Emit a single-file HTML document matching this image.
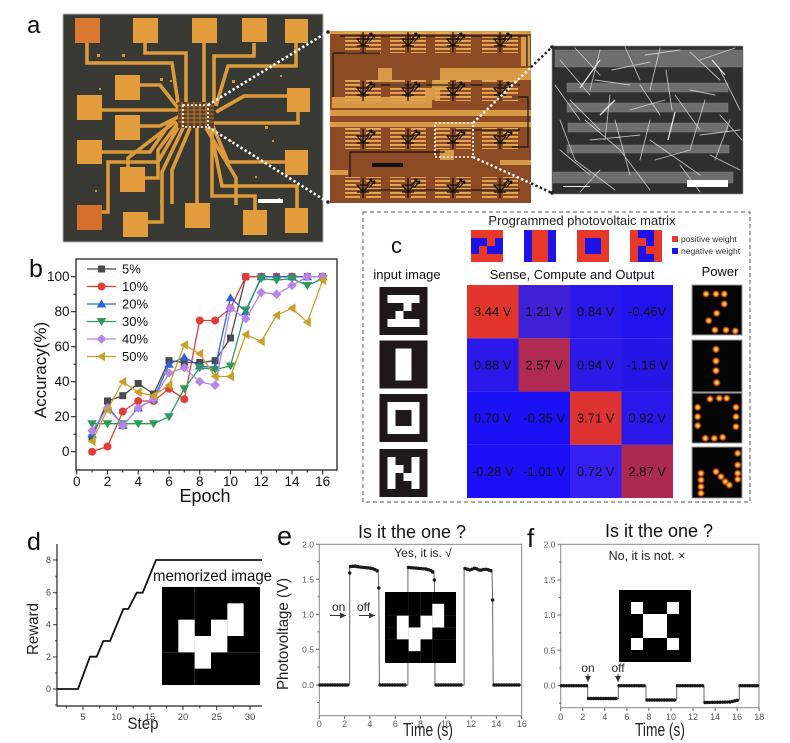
<!DOCTYPE html>
<html><head><meta charset="utf-8"><style>
html,body{margin:0;padding:0;background:#fff;}
svg{display:block;}
</style></head><body>
<svg width="790" height="743" viewBox="0 0 790 743" xmlns="http://www.w3.org/2000/svg" font-family="'Liberation Sans', Arial, sans-serif">
<defs>
<pattern id="stripes" x="0" y="0" width="8" height="4" patternUnits="userSpaceOnUse"><rect width="8" height="1.9" fill="#e6a856"/></pattern>
<g id="pd" fill="none" stroke="#111" stroke-width="1.2"><path d="M0,-10V10 M-6,-3H6L0,4Z M-6,4H6 M3,-2L9,-9 M6,0L12,-7 M9,-9l-3,0.6 M9,-9l-0.6,3 M12,-7l-3,0.6 M12,-7l-0.6,3"/></g>
<radialGradient id="glow"><stop offset="0" stop-color="#fff4a8"/><stop offset="0.35" stop-color="#ffb436"/><stop offset="0.7" stop-color="#e04c12" stop-opacity="0.85"/><stop offset="1" stop-color="#b01e00" stop-opacity="0"/></radialGradient>
<marker id="mSq" markerUnits="userSpaceOnUse" markerWidth="12" markerHeight="12" refX="6" refY="6" orient="0"><rect x="2.5" y="2.5" width="7" height="7" fill="#4a4a4a"/></marker>
<marker id="mCi" markerUnits="userSpaceOnUse" markerWidth="12" markerHeight="12" refX="6" refY="6" orient="0"><circle cx="6" cy="6" r="4" fill="#e43c3c"/></marker>
<marker id="mTu" markerUnits="userSpaceOnUse" markerWidth="12" markerHeight="12" refX="6" refY="6" orient="0"><path d="M6,1.5L10.8,9.5H1.2Z" fill="#2c64d6"/></marker>
<marker id="mTd" markerUnits="userSpaceOnUse" markerWidth="12" markerHeight="12" refX="6" refY="6" orient="0"><path d="M1.2,2.5H10.8L6,10.5Z" fill="#2f9a5c"/></marker>
<marker id="mDi" markerUnits="userSpaceOnUse" markerWidth="12" markerHeight="12" refX="6" refY="6" orient="0"><path d="M6,1.2L10.8,6L6,10.8L1.2,6Z" fill="#b884e8"/></marker>
<marker id="mTl" markerUnits="userSpaceOnUse" markerWidth="12" markerHeight="12" refX="6" refY="6" orient="0"><path d="M1.5,6L9.5,1.2V10.8Z" fill="#c8a02a"/></marker>
<marker id="arr" markerUnits="userSpaceOnUse" markerWidth="8" markerHeight="8" refX="6" refY="4" orient="auto"><path d="M0,1L6,4L0,7Z" fill="#333"/></marker>
</defs>

<!-- ============ PANEL A ============ -->
<text x="27" y="33" font-size="24" fill="#111">a</text>
<rect x="63" y="14" width="260" height="228" fill="#393934" stroke="#b0b0b0" stroke-width="1"/>
<g fill="none" stroke="#dc9a3a" stroke-width="3.6" stroke-linejoin="miter">
<path d="M87,43V63H172L178,103"/>
<path d="M145,43V53H186V105"/>
<path d="M204,43V105"/>
<path d="M254,43V56H214V105"/>
<path d="M296,43V66H228L216,106"/>
<path d="M140,85H160L178,108"/>
<path d="M102,110H180"/>
<path d="M140,126H160L180,116"/>
<path d="M102,152H150L172,120"/>
<path d="M145,178H158V150L178,123"/>
<path d="M100,212H108V162H158L180,124"/>
<path d="M148,222H162V172L184,126"/>
<path d="M197,203V128"/>
<path d="M255,210V196H212V128"/>
<path d="M297,208V186H222L210,127"/>
<path d="M285,162H228L212,124"/>
<path d="M298,112V123H214"/>
<path d="M287,96H244L216,112"/>
<path d="M128,167V158L176,121"/>
<path d="M172,204V170L190,128"/>
<path d="M236,205V178L206,128"/>
</g>
<g fill="#e39c3c">
<rect x="75" y="18" width="25" height="25" fill="#d97a30"/>
<rect x="133" y="18" width="25" height="25"/>
<rect x="192" y="18" width="25" height="25"/>
<rect x="242" y="18" width="25" height="24"/>
<rect x="285" y="19" width="23" height="24"/>
<rect x="115" y="75" width="25" height="25"/>
<rect x="77" y="95" width="25" height="25"/>
<rect x="115" y="115" width="25" height="25"/>
<rect x="77" y="140" width="25" height="24"/>
<rect x="120" y="167" width="25" height="25"/>
<rect x="77" y="205" width="25" height="25" fill="#d5702c"/>
<rect x="123" y="212" width="25" height="25"/>
<rect x="185" y="203" width="25" height="25"/>
<rect x="243" y="210" width="24" height="25"/>
<rect x="285" y="208" width="23" height="25"/>
<rect x="285" y="150" width="23" height="25"/>
<rect x="287" y="88" width="23" height="24"/>
</g>
<g fill="#d8953a">
<rect x="97" y="54" width="3" height="3"/><rect x="122" y="54" width="3" height="3"/><rect x="160" y="78" width="3" height="3"/>
<rect x="99" y="88" width="2" height="2"/><rect x="180" y="150" width="2" height="2"/><rect x="232" y="80" width="3" height="3"/>
<rect x="280" y="75" width="2" height="2"/><rect x="265" y="126" width="3" height="3"/><rect x="272" y="140" width="2" height="2"/>
<rect x="255" y="176" width="2" height="2"/><rect x="278" y="198" width="2" height="2"/><rect x="160" y="200" width="3" height="3"/>
<rect x="95" y="190" width="2" height="2"/><rect x="230" y="140" width="2" height="2"/><rect x="170" y="80" width="2" height="2"/>
</g>
<rect x="178" y="102" width="36" height="26" fill="#5e4028"/>
<g stroke="#c88a3a" stroke-width="0.8"><path d="M178,106H214M178,110H214M178,114H214M178,118H214M178,122H214M182,102V128M188,102V128M194,102V128M200,102V128M206,102V128"/></g>
<rect x="258" y="199" width="25" height="4" fill="#fff"/>
<rect x="183" y="105" width="25" height="22" fill="none" stroke="#fff" stroke-width="1.6" stroke-dasharray="2,2"/>
<g stroke="#fff" stroke-width="2.6" stroke-dasharray="2.4,2.4"><path d="M208,105L326,33"/><path d="M208,127L326,201"/></g>
<circle cx="328" cy="32" r="1.8" fill="#222"/><circle cx="328" cy="202" r="1.8" fill="#222"/>

<!-- optical inset -->
<rect x="330" y="31" width="201" height="172" fill="#8c4b25"/>
<g fill="#d99a48">
<rect x="330" y="31" width="201" height="3"/>
<rect x="330" y="110" width="201" height="6"/>
<rect x="330" y="122" width="201" height="5"/>
<path d="M332,97H425V88H432V80H440V68H531V80H448V90H440V100H432V108H332Z"/>
<rect x="378" y="68" width="14" height="14"/>
<rect x="521" y="36" width="9" height="30"/>
<rect x="330" y="170" width="18" height="5"/>
<rect x="500" y="160" width="31" height="5"/>
<rect x="440" y="150" width="14" height="10"/>
</g>
<g fill="url(#stripes)">
<rect x="345" y="32" width="15" height="21"/><rect x="366" y="32" width="15" height="21"/>
<rect x="390" y="32" width="15" height="21"/><rect x="411" y="32" width="15" height="21"/>
<rect x="435" y="32" width="15" height="21"/><rect x="456" y="32" width="15" height="21"/>
<rect x="482" y="32" width="15" height="21"/><rect x="503" y="32" width="15" height="21"/>
<rect x="345" y="80" width="15" height="21"/><rect x="366" y="80" width="15" height="21"/>
<rect x="390" y="80" width="15" height="21"/><rect x="411" y="80" width="15" height="21"/>
<rect x="435" y="80" width="15" height="21"/><rect x="456" y="80" width="15" height="21"/>
<rect x="482" y="80" width="15" height="21"/><rect x="503" y="80" width="15" height="21"/>
<rect x="345" y="128" width="15" height="21"/><rect x="366" y="128" width="15" height="21"/>
<rect x="390" y="128" width="15" height="21"/><rect x="411" y="128" width="15" height="21"/>
<rect x="435" y="128" width="15" height="21"/><rect x="456" y="128" width="15" height="21"/>
<rect x="482" y="128" width="15" height="21"/><rect x="503" y="128" width="15" height="21"/>
<rect x="345" y="177" width="15" height="22"/><rect x="366" y="177" width="15" height="22"/>
<rect x="390" y="177" width="15" height="22"/><rect x="411" y="177" width="15" height="22"/>
<rect x="435" y="177" width="15" height="22"/><rect x="456" y="177" width="15" height="22"/>
<rect x="482" y="177" width="15" height="22"/><rect x="503" y="177" width="15" height="22"/>
</g>
<g fill="none" stroke="#151515" stroke-width="1.2">
<path d="M340,36H527V66"/>
<path d="M333,53H380M333,53V97"/>
<path d="M370,85H520"/>
<path d="M512,97H528V147H512"/>
<path d="M455,130H520"/>
<path d="M350,152H445M350,152V177"/>
<path d="M360,190H520"/>
</g>
<g>
<use href="#pd" x="363" y="42"/><use href="#pd" x="408" y="42"/><use href="#pd" x="453" y="42"/><use href="#pd" x="500" y="42"/>
<use href="#pd" x="363" y="91"/><use href="#pd" x="408" y="91"/><use href="#pd" x="453" y="91"/><use href="#pd" x="500" y="91"/>
<use href="#pd" x="363" y="139"/><use href="#pd" x="408" y="139"/><use href="#pd" x="453" y="139"/><use href="#pd" x="500" y="139"/>
<use href="#pd" x="363" y="188"/><use href="#pd" x="408" y="188"/><use href="#pd" x="453" y="188"/><use href="#pd" x="500" y="188"/>
</g>
<rect x="372" y="163" width="31" height="4" fill="#111"/>
<rect x="435" y="123" width="38" height="34" fill="none" stroke="#fff" stroke-width="1.6" stroke-dasharray="2,2"/>
<g stroke-width="2.4" stroke-dasharray="2.4,2.4"><path d="M473,123L531,67.2" stroke="#fff"/><path d="M531,67.2L551,48" stroke="#222"/><path d="M473,157L531,183.4" stroke="#fff"/><path d="M531,183.4L551,192.5" stroke="#222"/></g>

<!-- SEM inset -->
<rect x="552" y="46" width="191" height="148" fill="#2f2f2f" stroke="#999" stroke-width="0.6"/>
<g fill="#6e6e6e" stroke="#808080" stroke-width="0.5">
<rect x="555" y="50" width="187" height="17"/>
<rect x="567" y="83" width="161" height="9"/>
<rect x="567" y="103" width="161" height="9"/>
<rect x="568" y="123" width="160" height="9"/>
<rect x="567" y="145" width="162" height="8"/>
<rect x="553" y="172" width="180" height="11"/>
</g>
<g stroke="#d4d4d4" stroke-width="0.9" opacity="0.85" stroke-linecap="round">
<path d="M560,60L590,95M575,48L600,75M600,50L590,90M612,70L650,62M625,47L640,80M645,55L680,50M660,48L650,90M690,52L720,80M700,60L735,48M720,70L740,110M570,100L600,130M585,120L620,150M610,95L605,140M630,110L665,100M650,120L640,160M675,95L700,130M705,100L690,150M720,115L742,140M560,150L590,175M575,160L615,190M620,150L650,190M655,160L690,150M680,165L700,192M710,155L740,170M730,120L715,160M590,140L640,135M560,120L575,160M600,170L580,192M640,85L660,115M666,70L672,110M595,80L630,85M700,135L740,130M555,85L580,120M690,90L715,95M650,140L700,175M615,120L630,175"/>
</g>
<g stroke="#f0f0f0" stroke-width="1.3" opacity="0.9"><path d="M580,88L600,60M675,112L668,140M712,60L725,75M600,115L615,100"/></g>
<rect x="687" y="180" width="41" height="7" fill="#fff"/>
<path d="M563,186.5H590" stroke="#eee" stroke-width="1"/>
<circle cx="552" cy="47" r="1.8" fill="#222"/><circle cx="552" cy="193" r="1.8" fill="#222"/>

<!-- ============ PANEL B ============ -->
<text x="29" y="277" font-size="25" fill="#111">b</text>
<rect x="76" y="259" width="261" height="211" fill="none" stroke="#222" stroke-width="1.3"/>
<g stroke="#222" stroke-width="1.1">
<path d="M71,451.7H76M71,416.7H76M71,381.7H76M71,346.7H76M71,311.7H76M71,276.7H76"/>
<path d="M73.5,434.2H76M73.5,399.2H76M73.5,364.2H76M73.5,329.2H76M73.5,294.2H76"/>
<path d="M76.7,470V474.5M107.5,470V474.5M138.2,470V474.5M169,470V474.5M199.7,470V474.5M230.5,470V474.5M261.2,470V474.5M292,470V474.5M322.7,470V474.5"/>
<path d="M92.1,470V472.5M122.8,470V472.5M153.6,470V472.5M184.3,470V472.5M215.1,470V472.5M245.8,470V472.5M276.6,470V472.5M307.3,470V472.5"/>
</g>
<g font-size="13.5" fill="#111" text-anchor="end">
<text x="69.5" y="281.2">100</text><text x="69.5" y="316.2">80</text><text x="69.5" y="351.2">60</text><text x="69.5" y="386.2">40</text><text x="69.5" y="421.2">20</text><text x="69.5" y="456.2">0</text>
</g>
<g font-size="13.5" fill="#111" text-anchor="middle">
<text x="76.7" y="486">0</text><text x="107.5" y="486">2</text><text x="138.2" y="486">4</text><text x="169" y="486">6</text><text x="199.7" y="486">8</text><text x="230.5" y="486">10</text><text x="261.2" y="486">12</text><text x="292" y="486">14</text><text x="322.7" y="486">16</text>
</g>
<text x="205" y="502" font-size="18" text-anchor="middle" fill="#111">Epoch</text>
<text transform="translate(46,370) rotate(-90)" font-size="17" text-anchor="middle" fill="#111">Accuracy(%)</text>
<g fill="none" stroke-width="1.3" stroke-linejoin="round">
<polyline stroke="#4a4a4a" marker-start="url(#mSq)" marker-mid="url(#mSq)" marker-end="url(#mSq)" points="92.1,437.7 107.5,401 122.8,395.7 138.2,383.5 153.6,394 169,360.7 184.3,362.5 199.7,362.5 215.1,360.7 230.5,338 245.8,276.7 261.2,276.7 276.6,276.7 292,276.7 307.3,276.7 322.7,276.7"/>
<polyline stroke="#e43c3c" marker-start="url(#mCi)" marker-mid="url(#mCi)" marker-end="url(#mCi)" points="92.1,451.7 107.5,446.5 122.8,411.5 138.2,401 153.6,401 169,388.7 184.3,399.2 199.7,320.5 215.1,320.5 230.5,308.2 245.8,276.7 261.2,276.7 276.6,276.7 292,276.7 307.3,276.7 322.7,276.7"/>
<polyline stroke="#2c64d6" marker-start="url(#mTu)" marker-mid="url(#mTu)" marker-end="url(#mTu)" points="92.1,434.2 107.5,406.2 122.8,425.5 138.2,408 153.6,399.2 169,364.2 184.3,357.2 199.7,366 215.1,367.7 230.5,297.7 245.8,311.7 261.2,276.7 276.6,276.7 292,276.7 307.3,276.7 322.7,276.7"/>
<polyline stroke="#2f9a5c" marker-start="url(#mTd)" marker-mid="url(#mTd)" marker-end="url(#mTd)" points="92.1,423.7 107.5,423.7 122.8,423.7 138.2,423.7 153.6,423.7 169,416.7 184.3,388.7 199.7,367.7 215.1,369.5 230.5,366 245.8,310 261.2,278.5 276.6,280.2 292,278.5 307.3,285.5 322.7,278.5"/>
<polyline stroke="#b884e8" marker-start="url(#mDi)" marker-mid="url(#mDi)" marker-end="url(#mDi)" points="92.1,430.7 107.5,408 122.8,425.5 138.2,408 153.6,399.2 169,373 184.3,367.7 199.7,381.7 215.1,385.2 230.5,308.2 245.8,318.7 261.2,292.5 276.6,294.2 292,285.5 307.3,276.7 322.7,276.7"/>
<polyline stroke="#c8a02a" marker-start="url(#mTl)" marker-mid="url(#mTl)" marker-end="url(#mTl)" points="92.1,441.2 107.5,409.7 122.8,381.7 138.2,392.2 153.6,395.7 169,385.2 184.3,345 199.7,353.7 215.1,376.5 230.5,376.5 245.8,334.5 261.2,341.5 276.6,315.2 292,308.2 307.3,322.2 322.7,280.2"/>
<polyline stroke="#4a4a4a" marker-mid="url(#mSq)" points="87,269 101.5,269 116,269"/>
<polyline stroke="#e43c3c" marker-mid="url(#mCi)" points="87,286.5 101.5,286.5 116,286.5"/>
<polyline stroke="#2c64d6" marker-mid="url(#mTu)" points="87,304 101.5,304 116,304"/>
<polyline stroke="#2f9a5c" marker-mid="url(#mTd)" points="87,321.5 101.5,321.5 116,321.5"/>
<polyline stroke="#b884e8" marker-mid="url(#mDi)" points="87,339 101.5,339 116,339"/>
<polyline stroke="#c8a02a" marker-mid="url(#mTl)" points="87,356.5 101.5,356.5 116,356.5"/>
</g>
<g font-size="13" fill="#111">
<text x="122" y="273.5">5%</text><text x="122" y="291">10%</text><text x="122" y="308.5">20%</text><text x="122" y="326">30%</text><text x="122" y="343.5">40%</text><text x="122" y="361">50%</text>
</g>

<!-- ============ PANEL C ============ -->
<rect x="363" y="212" width="387" height="290" fill="none" stroke="#555" stroke-width="1" stroke-dasharray="4,3"/>
<text x="582" y="225" font-size="13" text-anchor="middle" fill="#222">Programmed photovoltaic matrix</text>
<text x="391" y="253" font-size="22" fill="#111">c</text>
<g transform="translate(471,230) scale(8)">
<rect width="4" height="4" fill="#e8382a"/>
<g fill="#1c12e6"><rect x="0" y="1" width="2" height="1"/><rect x="3" y="1" width="1" height="1"/><rect x="0" y="2" width="1" height="1"/><rect x="2" y="2" width="2" height="1"/></g>
</g>
<g transform="translate(524,230) scale(8)">
<rect width="4" height="4" fill="#e8382a"/>
<g fill="#1c12e6"><rect x="0" y="0" width="1" height="4"/><rect x="3" y="0" width="1" height="4"/></g>
</g>
<g transform="translate(577,230) scale(8)">
<rect width="4" height="4" fill="#e8382a"/>
<rect x="1" y="1" width="2" height="2" fill="#1c12e6"/>
</g>
<g transform="translate(630,230) scale(8)">
<rect width="4" height="4" fill="#e8382a"/>
<g fill="#1c12e6"><rect x="1" y="0" width="2" height="1"/><rect x="2" y="1" width="1" height="1"/><rect x="1" y="2" width="1" height="1"/><rect x="1" y="3" width="2" height="1"/></g>
</g>
<rect x="672" y="236" width="6" height="6" fill="#e8382a"/>
<rect x="672" y="248" width="6" height="6" fill="#1c12e6"/>
<text x="681" y="242" font-size="8.5" fill="#333">positive weight</text>
<text x="681" y="254" font-size="8.5" fill="#333">negative weight</text>
<text x="407" y="279" font-size="13" text-anchor="middle" fill="#111">input image</text>
<text x="572" y="279" font-size="13" text-anchor="middle" fill="#111">Sense, Compute and Output</text>
<text x="720" y="276" font-size="13" text-anchor="middle" fill="#111">Power</text>
<g transform="translate(379.5,287) scale(8)"><rect width="6" height="6" fill="#1e1818"/><g fill="#fff"><rect x="1" y="1" width="4" height="1"/><rect x="3" y="2" width="1" height="1"/><rect x="2" y="3" width="1" height="1"/><rect x="1" y="4" width="4" height="1"/></g></g>
<g transform="translate(379.5,340.5) scale(8)"><rect width="6" height="6" fill="#1e1818"/><rect x="2" y="1" width="2" height="4" fill="#fff"/></g>
<g transform="translate(379.5,394) scale(8)"><rect width="6" height="6" fill="#1e1818"/><path d="M1,1H5V5H1Z M2,2V4H4V2Z" fill="#fff" fill-rule="evenodd"/></g>
<g transform="translate(379.5,449) scale(8)"><rect width="6" height="6" fill="#1e1818"/><g fill="#fff"><rect x="1" y="1" width="1" height="4"/><rect x="4" y="1" width="1" height="4"/><rect x="2" y="2" width="1" height="1"/><rect x="3" y="3" width="1" height="1"/></g></g>
<g>
<rect x="467" y="285" width="51.5" height="53.3" fill="#e2362c"/>
<rect x="518.5" y="285" width="51.5" height="53.3" fill="#4020d4"/>
<rect x="570" y="285" width="51.5" height="53.3" fill="#2a18ea"/>
<rect x="621.5" y="285" width="51.5" height="53.3" fill="#2214ee"/>
<rect x="467" y="338.3" width="51.5" height="53.3" fill="#2a18ea"/>
<rect x="518.5" y="338.3" width="51.5" height="53.3" fill="#b02a52"/>
<rect x="570" y="338.3" width="51.5" height="53.3" fill="#2c1ae8"/>
<rect x="621.5" y="338.3" width="51.5" height="53.3" fill="#2616e6"/>
<rect x="467" y="391.6" width="51.5" height="53.3" fill="#1c10f6"/>
<rect x="518.5" y="391.6" width="51.5" height="53.3" fill="#1a10f6"/>
<rect x="570" y="391.6" width="51.5" height="53.3" fill="#dc3232"/>
<rect x="621.5" y="391.6" width="51.5" height="53.3" fill="#2a18ea"/>
<rect x="467" y="444.9" width="51.5" height="53.1" fill="#1c10f6"/>
<rect x="518.5" y="444.9" width="51.5" height="53.1" fill="#1a10f6"/>
<rect x="570" y="444.9" width="51.5" height="53.1" fill="#3620f0"/>
<rect x="621.5" y="444.9" width="51.5" height="53.1" fill="#ac2a50"/>
</g>
<g font-size="13" fill="#111" text-anchor="middle">
<text x="492.7" y="316">3.44 V</text><text x="544.2" y="316">1.21 V</text><text x="595.7" y="316">0.84 V</text><text x="647.2" y="316">-0.46V</text>
<text x="492.7" y="369.3">0.88 V</text><text x="544.2" y="369.3">2.57 V</text><text x="595.7" y="369.3">0.94 V</text><text x="647.2" y="369.3">-1.16 V</text>
<text x="492.7" y="422.6">0.70 V</text><text x="544.2" y="422.6">-0.35 V</text><text x="595.7" y="422.6">3.71 V</text><text x="647.2" y="422.6">0.92 V</text>
<text x="492.7" y="475.9">-0.28 V</text><text x="544.2" y="475.9">-1.01 V</text><text x="595.7" y="475.9">0.72 V</text><text x="647.2" y="475.9">2.87 V</text>
</g>
<g fill="#050505" stroke="#9a9a9a" stroke-width="1">
<rect x="692" y="285" width="50" height="50"/><rect x="692" y="340" width="50" height="52"/><rect x="692" y="393" width="50" height="50"/><rect x="692" y="447" width="50" height="51"/>
</g>
<g fill="url(#glow)">
<circle cx="706" cy="294" r="4"/><circle cx="716" cy="294" r="4"/><circle cx="724.3" cy="294" r="4"/><circle cx="724.3" cy="304" r="4"/><circle cx="716.7" cy="313.3" r="4"/><circle cx="708.7" cy="320.7" r="4"/><circle cx="715" cy="330" r="4"/><circle cx="726" cy="330" r="4"/><circle cx="735.3" cy="331" r="4"/>
<circle cx="716" cy="349.3" r="4.2"/><circle cx="716" cy="361" r="4.2"/><circle cx="716" cy="370.7" r="4.2"/><circle cx="716.7" cy="382.7" r="4.2"/>
<circle cx="710" cy="399" r="4"/><circle cx="719.3" cy="398.3" r="4"/><circle cx="726.7" cy="398.3" r="4"/><circle cx="697.7" cy="407.3" r="4"/><circle cx="697.7" cy="416.7" r="4"/><circle cx="697.7" cy="425.7" r="4"/><circle cx="736" cy="407.3" r="4"/><circle cx="736" cy="416.7" r="4"/><circle cx="736" cy="426.7" r="4"/><circle cx="705.3" cy="438.3" r="4"/><circle cx="714.3" cy="438.3" r="4"/><circle cx="722.7" cy="437.3" r="4"/>
<circle cx="701" cy="473.3" r="4"/><circle cx="701" cy="480" r="4"/><circle cx="701" cy="486.7" r="4"/><circle cx="701" cy="493.3" r="4"/><circle cx="716" cy="471.7" r="4"/><circle cx="721" cy="476.7" r="4"/><circle cx="725.3" cy="481.7" r="4"/><circle cx="729.3" cy="485" r="4"/><circle cx="737.7" cy="453.3" r="4"/><circle cx="737.7" cy="465" r="4"/><circle cx="737.7" cy="473.3" r="4"/><circle cx="737.7" cy="479.3" r="4"/>
</g>

<!-- ============ PANEL D ============ -->
<text x="27" y="550" font-size="25" fill="#111">d</text>
<g stroke="#222" stroke-width="1.2" fill="none"><path d="M57,544V706H262"/></g>
<g stroke="#333" stroke-width="1">
<path d="M53,560H57M53,592.7H57M53,624.7H57M53,657H57M53,689H57"/>
<path d="M55,576.3H57M55,608.7H57M55,640.8H57M55,673H57M55,705H57"/>
<path d="M83,706V710M116.5,706V710M150,706V710M183,706V710M216.7,706V710M250,706V710"/>
<path d="M66.3,706V708.5M99.7,706V708.5M133.2,706V708.5M166.5,706V708.5M199.8,706V708.5M233.3,706V708.5"/>
</g>
<g font-size="9" fill="#444" text-anchor="end">
<text x="51" y="563">8</text><text x="51" y="595.7">6</text><text x="51" y="627.7">4</text><text x="51" y="660">2</text><text x="51" y="692">0</text>
</g>
<g font-size="9.5" fill="#444" text-anchor="middle">
<text x="83" y="720">5</text><text x="116.5" y="720">10</text><text x="150" y="720">15</text><text x="183" y="720">20</text><text x="216.7" y="720">25</text><text x="250" y="720">30</text>
</g>
<text x="143" y="729" font-size="17" text-anchor="middle" fill="#222" textLength="31" lengthAdjust="spacingAndGlyphs">Step</text>
<text transform="translate(38,629) rotate(-90)" font-size="16" text-anchor="middle" fill="#222" textLength="52" lengthAdjust="spacingAndGlyphs">Reward</text>
<polyline fill="none" stroke="#111" stroke-width="1.8" points="57,689 78,689 90,656.7 96.7,656.7 103.3,641 110,641 123.3,609 128.3,609 136.7,592.7 142.7,592.7 156,560 262,560"/>
<text x="153" y="581" font-size="16" fill="#111" textLength="119" lengthAdjust="spacingAndGlyphs">memorized image</text>
<g transform="translate(162,587) scale(16.33)">
<rect width="6" height="6" fill="#000"/>
<path d="M2,0V6M0,4H6" stroke="#2a2a2a" stroke-width="0.05" fill="none"/>
<g fill="#fff"><rect x="1" y="2" width="1" height="2"/><rect x="2" y="3" width="1" height="2"/><rect x="3" y="2" width="1" height="2"/><rect x="4" y="1" width="1" height="2"/></g>
</g>

<!-- ============ PANEL E ============ -->
<text x="277" y="545" font-size="27" fill="#111">e</text>
<text x="412" y="538" font-size="18" text-anchor="middle" fill="#111">Is it the one ?</text>
<rect x="319.3" y="544.3" width="202.4" height="171.4" fill="none" stroke="#888" stroke-width="1"/>
<g stroke="#666" stroke-width="1">
<path d="M316,544.3H319.3M316,579.3H319.3M316,614.3H319.3M316,649.3H319.3M316,685H319.3"/>
<path d="M317.5,561.8H319.3M317.5,596.8H319.3M317.5,631.8H319.3M317.5,667H319.3M317.5,702.5H319.3"/>
<path d="M319.3,715.7V719M344.6,715.7V719M369.9,715.7V719M395.2,715.7V719M420.5,715.7V719M445.8,715.7V719M471.1,715.7V719M496.4,715.7V719M521.7,715.7V719"/>
</g>
<g font-size="8.5" fill="#555" text-anchor="end">
<text x="314" y="547.3">2.0</text><text x="314" y="582.3">1.5</text><text x="314" y="617.3">1.0</text><text x="314" y="652.3">0.5</text><text x="314" y="688">0.0</text>
</g>
<g font-size="9" fill="#555" text-anchor="middle">
<text x="319.3" y="727">0</text><text x="344.6" y="727">2</text><text x="369.9" y="727">4</text><text x="395.2" y="727">6</text><text x="420.5" y="727">8</text><text x="445.8" y="727">10</text><text x="471.1" y="727">12</text><text x="496.4" y="727">14</text><text x="521.7" y="727">16</text>
</g>
<text x="428" y="736" font-size="18" text-anchor="middle" fill="#222" textLength="50" lengthAdjust="spacingAndGlyphs">Time (s)</text>
<text transform="translate(288,634) rotate(-90)" font-size="16" text-anchor="middle" fill="#222" textLength="112" lengthAdjust="spacingAndGlyphs">Photovoltage (V)</text>
<path d="M319.3,685H349.7V567L378.1,570L378.8,588L379.4,685H407.9V568L433.8,570.5L434.4,580L435,685H464.1V569L492,570L492.6,600L493.2,685H521.7" fill="none" stroke="#666" stroke-width="1"/>
<g fill="none" stroke="#1a1a1a" stroke-width="3.4" stroke-linecap="round" stroke-dasharray="0,2.5">
<path d="M320,685H349"/><path d="M380,685H407"/><path d="M436,685H463"/><path d="M494,685H521"/>
<path d="M350.5,566.5L355,566L360,567L365,567.5L370,568L374,569L377.5,571"/>
<path d="M408.5,567.5L415,568L420,568.5L426,569L431,570.5L433.5,573"/>
<path d="M465,568.5L470,570L475,568L480,570.5L485,569L489,570L491.5,571"/>
</g>
<circle cx="378.8" cy="588" r="1.7" fill="#1a1a1a"/><circle cx="349.7" cy="573" r="1.7" fill="#1a1a1a"/><circle cx="434.4" cy="580" r="1.7" fill="#1a1a1a"/><circle cx="492.6" cy="600" r="1.7" fill="#1a1a1a"/>
<text x="423" y="557" font-size="12" text-anchor="middle" fill="#222">Yes, it is. √</text>
<text x="332" y="611" font-size="12" fill="#222">on</text>
<text x="357" y="611" font-size="12" fill="#222">off</text>
<path d="M330,615.5H346" stroke="#333" stroke-width="1" marker-end="url(#arr)"/>
<path d="M359,615.5H375" stroke="#333" stroke-width="1" marker-end="url(#arr)"/>
<g transform="translate(385,592) scale(11.83)">
<rect width="6" height="6" fill="#000"/>
<path d="M2,0V6M3,0V6M4,0V6M0,2H6M0,3H6M0,4H6" stroke="#262626" stroke-width="0.04" fill="none"/>
<g fill="#fff"><rect x="1" y="2" width="1" height="2"/><rect x="2" y="3" width="1" height="2"/><rect x="3" y="2" width="1" height="2"/><rect x="4" y="1" width="1" height="2"/></g>
</g>

<!-- ============ PANEL F ============ -->
<text x="527" y="547" font-size="26" fill="#111">f</text>
<text x="659" y="537" font-size="18" text-anchor="middle" fill="#111">Is it the one ?</text>
<rect x="560.7" y="544.3" width="198.3" height="163.4" fill="none" stroke="#888" stroke-width="1"/>
<g stroke="#666" stroke-width="1">
<path d="M557.5,544.3H560.7M557.5,580H560.7M557.5,615H560.7M557.5,650.3H560.7M557.5,685.7H560.7"/>
<path d="M559,562H560.7M559,597.5H560.7M559,632.7H560.7M559,668H560.7M559,703.3H560.7"/>
<path d="M560.7,707.7V711M582.8,707.7V711M604.8,707.7V711M626.9,707.7V711M648.9,707.7V711M671,707.7V711M693,707.7V711M715.1,707.7V711M737.1,707.7V711M759.2,707.7V711"/>
</g>
<g font-size="8.5" fill="#555" text-anchor="end">
<text x="555.5" y="547.3">2.0</text><text x="555.5" y="583">1.5</text><text x="555.5" y="618">1.0</text><text x="555.5" y="653.3">0.5</text><text x="555.5" y="688.7">0.0</text>
</g>
<g font-size="9" fill="#555" text-anchor="middle">
<text x="560.7" y="720">0</text><text x="582.8" y="720">2</text><text x="604.8" y="720">4</text><text x="626.9" y="720">6</text><text x="648.9" y="720">8</text><text x="671" y="720">10</text><text x="693" y="720">12</text><text x="715.1" y="720">14</text><text x="737.1" y="720">16</text><text x="759.2" y="720">18</text>
</g>
<text x="660" y="736" font-size="18" text-anchor="middle" fill="#222" textLength="50" lengthAdjust="spacingAndGlyphs">Time (s)</text>
<path d="M560.7,685.7H587.7V698.5H618.3V685.7H646V700H676.7V685.7H704V702.5L730,702L739.3,700V685.7H759" fill="none" stroke="#666" stroke-width="1"/>
<g fill="none" stroke="#1a1a1a" stroke-width="3.4" stroke-linecap="round" stroke-dasharray="0,2.5">
<path d="M561.5,685.7H587"/><path d="M619,685.7H645.5"/><path d="M677.5,685.7H703.5"/><path d="M740,685.7H758.5"/>
<path d="M588.5,698.5H617.5"/><path d="M647,700H676"/><path d="M705,702.5L730,702L738.5,700"/>
</g>
<text x="647" y="560" font-size="12.5" text-anchor="middle" fill="#222">No, it is not. ×</text>
<text x="588" y="672" font-size="12" text-anchor="middle" fill="#222">on</text>
<text x="618" y="672" font-size="12" text-anchor="middle" fill="#222">off</text>
<path d="M588,674V682" stroke="#333" stroke-width="1" marker-end="url(#arr)"/>
<path d="M618,674V682" stroke="#333" stroke-width="1" marker-end="url(#arr)"/>
<g transform="translate(619,590) scale(12)">
<rect width="6" height="6" fill="#000"/>
<g fill="#fff"><rect x="1" y="1" width="1" height="1"/><rect x="4" y="1" width="1" height="1"/><rect x="2" y="2" width="2" height="2"/><rect x="1" y="4" width="1" height="1"/><rect x="4" y="4" width="1" height="1"/></g>
</g>
</svg>
</body></html>
